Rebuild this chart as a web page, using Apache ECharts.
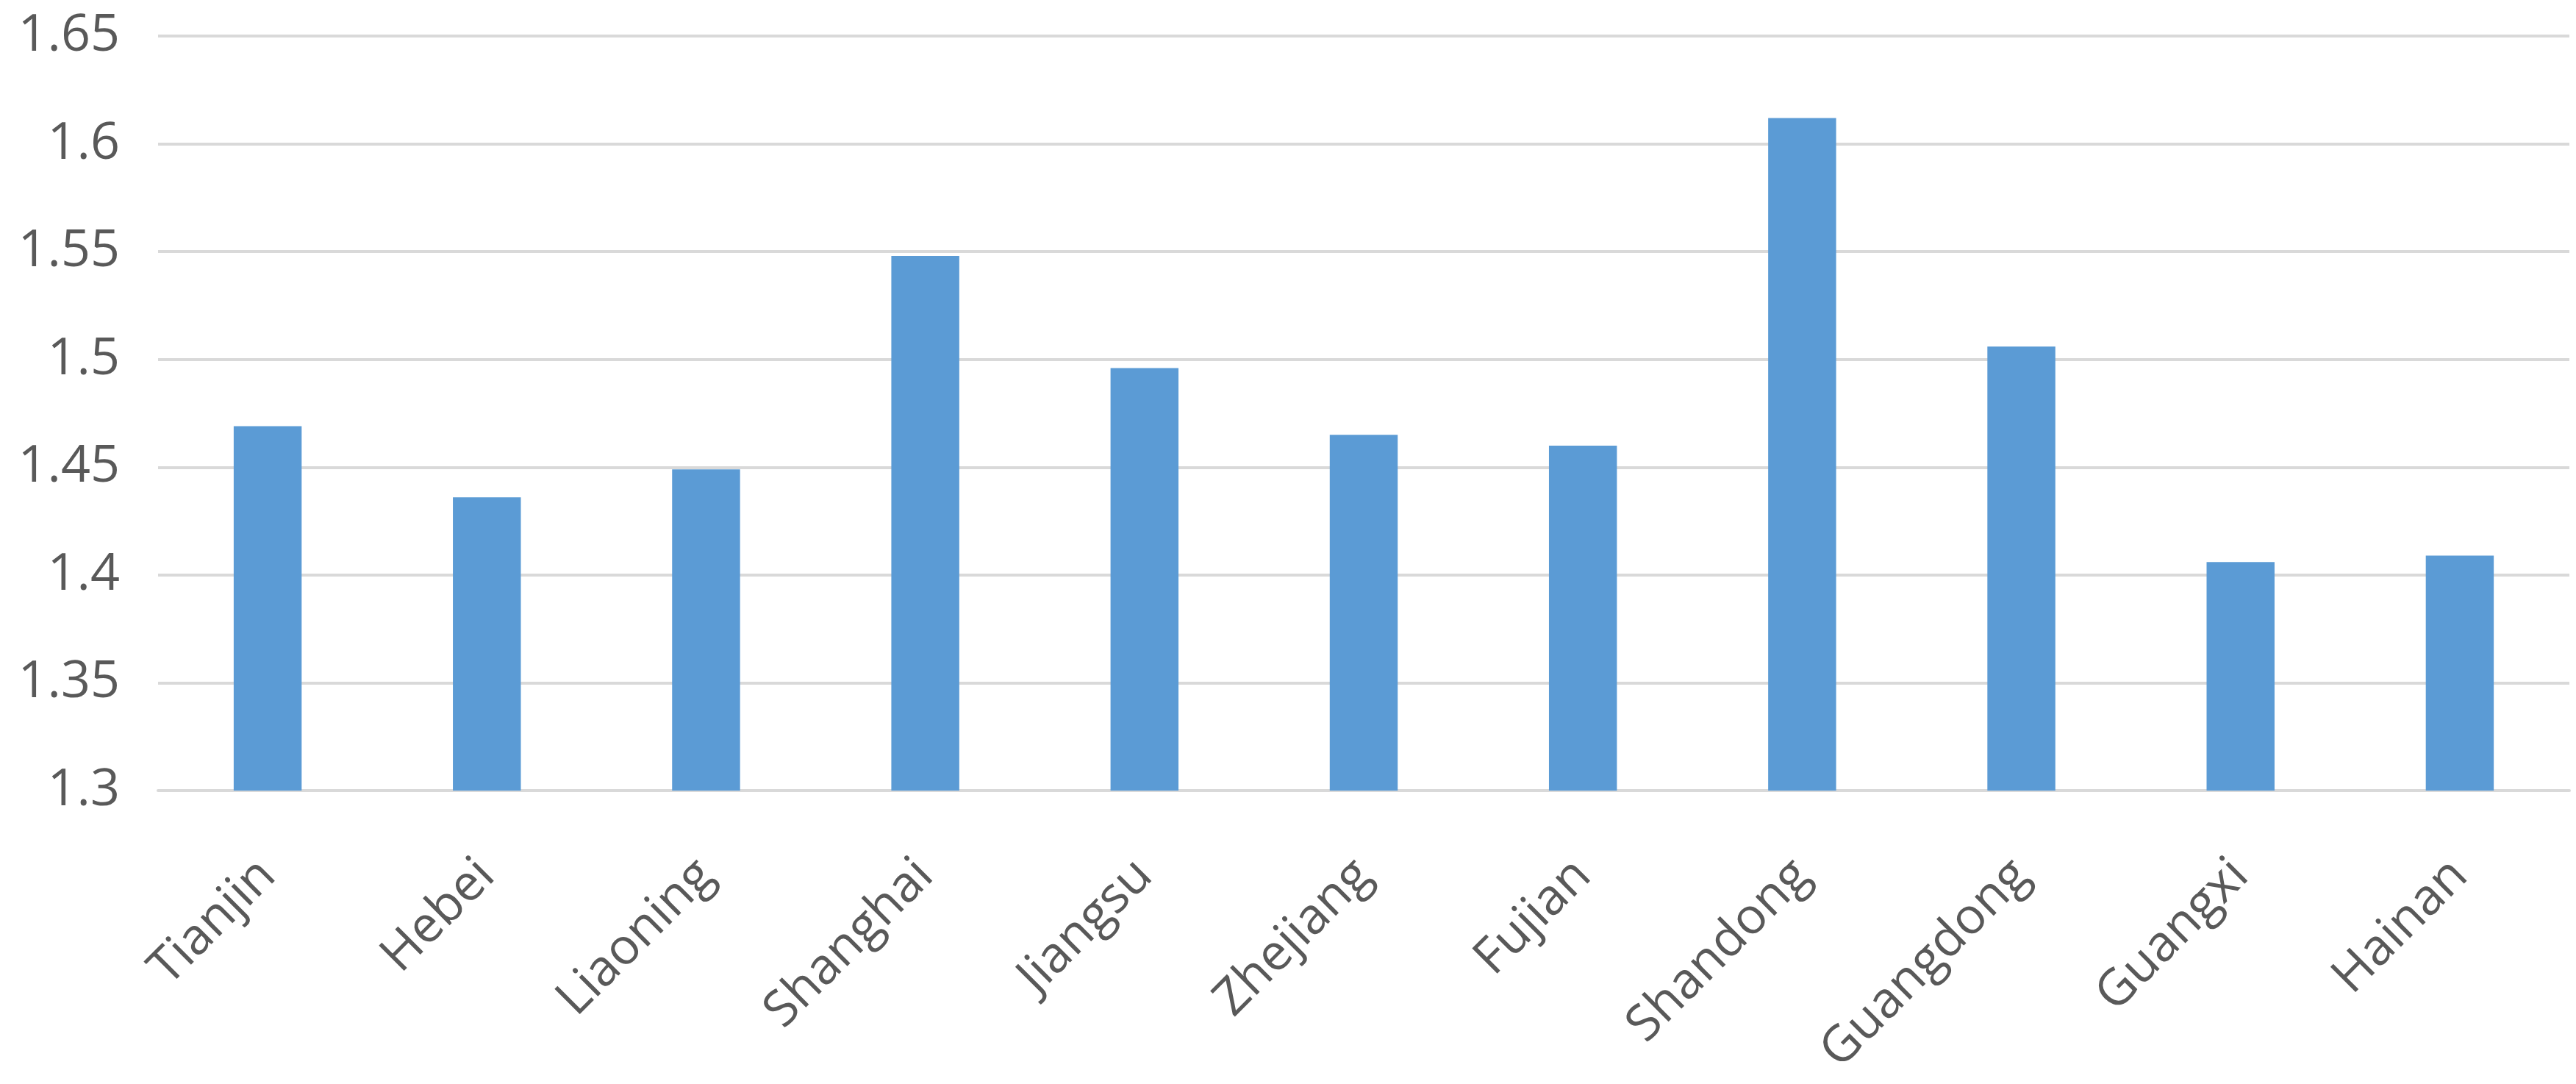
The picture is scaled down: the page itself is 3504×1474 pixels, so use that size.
<!DOCTYPE html>
<html>
<head>
<meta charset="utf-8">
<script src="https://cdn.jsdelivr.net/npm/echarts@6/dist/echarts.min.js"></script>
<style>
html,body{margin:0;padding:0;background:#fff;}
#chart{width:3504px;height:1474px;}
</style>
</head>
<body>
<div id="chart"></div>
<script>
const categories = ["Tianjin","Hebei","Liaoning","Shanghai","Jiangsu","Zhejiang","Fujian","Shandong","Guangdong","Guangxi","Hainan"];
const values = [1.469, 1.436, 1.449, 1.548, 1.496, 1.465, 1.460, 1.612, 1.506, 1.406, 1.409];
const yTicks = {min: 1.3, max: 1.65, interval: 0.05};

const chart = echarts.init(document.getElementById('chart'));
chart.setOption({
  animation: false,
  backgroundColor: '#ffffff',
  grid: {left: 215, right: 9, top: 49, bottom: 399, containLabel: false},
  xAxis: {
    type: 'category',
    data: categories,
    axisLine: {show: true, lineStyle: {color: '#d9d9d9', width: 4}},
    axisTick: {show: false},
    axisLabel: {
      rotate: 45,
      margin: 105,
      fontFamily: 'Open Sans',
      fontSize: 68,
      color: '#595959',
      interval: 0
    }
  },
  yAxis: {
    type: 'value',
    min: yTicks.min,
    max: yTicks.max,
    interval: yTicks.interval,
    axisLine: {show: false},
    axisTick: {show: false},
    splitLine: {lineStyle: {color: '#d9d9d9', width: 4}},
    axisLabel: {
      margin: 52,
      fontFamily: 'Open Sans',
      fontSize: 70,
      color: '#595959',
      formatter: v => String(parseFloat(v.toFixed(2)))
    }
  },
  series: [{
    type: 'bar',
    data: values,
    barWidth: '31%',
    itemStyle: {color: '#5b9bd5'}
  }]
});
</script>
</body>
</html>
